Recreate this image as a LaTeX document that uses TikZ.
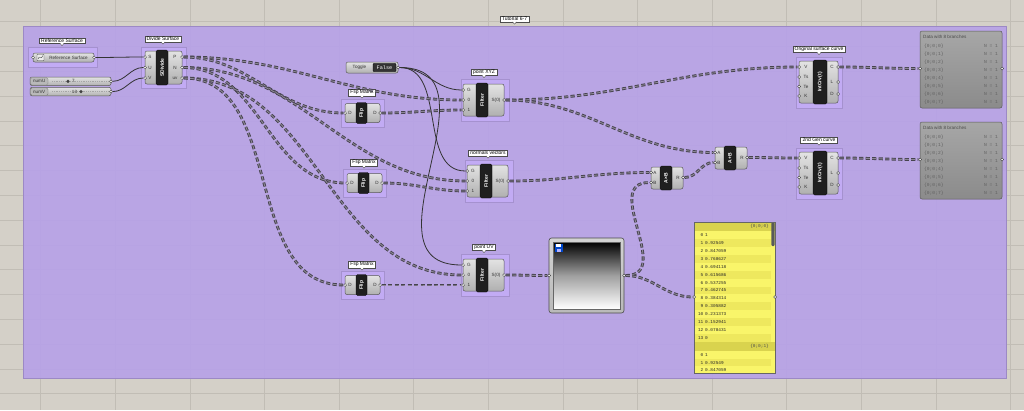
\documentclass[tikz,border=0pt]{standalone}
\usepackage{fontspec}
\setmainfont{Liberation Sans}
\newfontfamily\ghmono{Liberation Mono}
\usetikzlibrary{calc}
\pgfdeclarelayer{ghbg}
\pgfdeclarelayer{ghgrp}
\pgfdeclarelayer{ghwire}
\pgfsetlayers{ghbg,ghgrp,ghwire,main}
\definecolor{bgc}{HTML}{D4D0C8}
\definecolor{gridc}{HTML}{C1BDB5}
\definecolor{grpc}{HTML}{B7A1E8}
\definecolor{cgrpc}{HTML}{C2ABF4}
\definecolor{wirec}{HTML}{46434E}
\definecolor{wirein}{HTML}{8C8696}
\definecolor{yelA}{HTML}{F9F56A}
\definecolor{yelB}{HTML}{EEE85E}
\definecolor{yelH}{HTML}{D9D34E}
\definecolor{dpan}{HTML}{979797}
\tikzset{
  wire/.style={draw=wirec, line width=0.95pt, double=wirein, double distance=0.9pt, dash pattern=on 4.2pt off 2.3pt},
  swire/.style={draw=black!80, line width=0.8pt},
  body/.style={draw=black!65, line width=0.5pt, rounded corners=2pt, top color=gray!22, bottom color=gray!62},
  bar/.style={fill=black!88, draw=black, line width=0.3pt, rounded corners=1.5pt},
  bartxt/.style={text=white, font=\fontsize{5}{5}\selectfont\bfseries, rotate=90, inner sep=0},
  plab/.style={font=\fontsize{4.6}{5}\selectfont, text=black!80, inner sep=0},
  port/.style={circle, draw=black!80, fill=white!92!gray, line width=0.35pt, inner sep=0, minimum size=3pt},
  cgroup/.style={fill=cgrpc, draw=cgrpc!85!black, line width=0.25pt},
  bubble/.style={draw=black!70, fill=white, line width=0.35pt, inner xsep=2pt, inner ysep=0.9pt, font=\fontsize{5}{5.5}\selectfont},
  drow/.style={font=\ghmono\fontsize{4.6}{5}\selectfont, text=black!62, inner sep=0},
  yrow/.style={font=\ghmono\fontsize{4.4}{5}\selectfont, text=black!85, inner sep=0},
}
\newcommand\ghbubble[3]{%
  \node[bubble] (#1) at #2 {#3};
  \fill[white] ([xshift=-2pt,yshift=0.3pt]#1.south) -- ([yshift=-2.2pt]#1.south) -- ([xshift=2pt,yshift=0.3pt]#1.south) -- cycle;
  \draw[black!70, line width=0.35pt] ([xshift=-2pt]#1.south) -- ([yshift=-2.2pt]#1.south) -- ([xshift=2pt]#1.south);
}
\newcommand\ghfilter[4]{%
\begin{scope}[shift={(#2,#3)}]
  \begin{pgfonlayer}{ghgrp}
    \draw[cgroup] (-2,-5) rectangle (46,37);
    \ghbubble{#1lb}{(21,-12)}{#4}
  \end{pgfonlayer}
  \draw[body] (0,0) rectangle (41,32);
  \draw[bar] (13,-1) rectangle (25,33);
  \node[bartxt] at (19,16) {Filter};
  \node[plab] at (6,6) {G};
  \node[plab] at (6,16) {0};
  \node[plab] at (6,26) {1};
  \node[plab] at (33,16) {S(0)};
  \node[port] (#1G) at (0,6) {};
  \node[port] (#1A) at (0,16) {};
  \node[port] (#1B) at (0,26) {};
  \node[port] (#1O) at (41,16) {};
\end{scope}}
\newcommand\ghflip[3]{%
\begin{scope}[shift={(#2,#3)}]
  \begin{pgfonlayer}{ghgrp}
    \draw[cgroup] (-4,-4) rectangle (39,24);
    \ghbubble{#1lb}{(17,-11)}{Flip Matrix}
  \end{pgfonlayer}
  \draw[body] (0,0) rectangle (35,19);
  \draw[bar] (11,-1) rectangle (22,20);
  \node[bartxt] at (16.5,9.5) {Flip};
  \node[plab] at (5,9.5) {D};
  \node[plab] at (30,9.5) {D};
  \node[port] (#1I) at (0,9.5) {};
  \node[port] (#1O) at (35,9.5) {};
\end{scope}}
\newcommand\ghop[4]{%
\begin{scope}[shift={(#2,#3)}]
  \draw[body] (0,0) rectangle (32,22);
  \draw[bar] (9,-1) rectangle (21,23);
  \node[bartxt] at (15,11) {#4};
  \node[plab] at (4,5.5) {A};
  \node[plab] at (4,15.5) {B};
  \node[plab] at (27,10.5) {R};
  \node[port] (#1A) at (0,5.5) {};
  \node[port] (#1B) at (0,15.5) {};
  \node[port] (#1R) at (32,10.5) {};
\end{scope}}
\newcommand\ghintcrv[4]{%
\begin{scope}[shift={(#2,#3)}]
  \begin{pgfonlayer}{ghgrp}
    \draw[cgroup] (-3,-4) rectangle (43,47);
    \ghbubble{#1lb}{(20,-12)}{#4}
  \end{pgfonlayer}
  \draw[body] (0,0) rectangle (39,42);
  \draw[bar] (14,-1) rectangle (28,43);
  \node[bartxt] at (21,21) {IntCrv(t)};
  \node[plab] at (7,6) {V};
  \node[plab] at (7,16) {Ts};
  \node[plab] at (7,25.5) {Te};
  \node[plab] at (7,35) {K};
  \node[plab] at (33,6) {C};
  \node[plab] at (33,21) {L};
  \node[plab] at (33,33) {D};
  \node[port] (#1V) at (0,6) {};
  \node[port] at (0,16) {};
  \node[port] at (0,25.5) {};
  \node[port] at (0,35) {};
  \node[port] (#1C) at (39,6) {};
  \node[port] at (39,21) {};
  \node[port] at (39,33) {};
\end{scope}}
\newcommand\ghdata[3]{%
\begin{scope}[shift={(#2,#3)}]
  \draw[draw=black!65, line width=0.5pt, rounded corners=2pt, top color=dpan!85!white, bottom color=dpan!92!black] (0,0) rectangle (82,77);
  \node[anchor=west, plab, text=black!70] at (3,6) {Data with 8 branches};
  \foreach \k in {0,...,7} {
    \node[anchor=west, drow] at (4,{15+8*\k}) {\{0;0;\k\}};
    \node[anchor=east, drow] at (78,{15+8*\k}) {N = 1};
  }
  \node[port] (#1I) at (0,37.5) {};
  \node[port] (#1O) at (82,37.5) {};
\end{scope}}
\begin{document}
\begin{tikzpicture}[x=1pt,y=-1pt]
\useasboundingbox (0,0) rectangle (1024,410);
\begin{pgfonlayer}{ghbg}
  \fill[bgc] (0,0) rectangle (1024,410);
  \foreach \k in {0,...,13} \draw[gridc, line width=0.6pt] ({40.6+74.6*\k},0) -- ({40.6+74.6*\k},410);
  \foreach \k in {0,...,16} \draw[gridc, line width=0.6pt] (0,{21.7+24.8*\k}) -- (1024,{21.7+24.8*\k});
  \fill[grpc, fill opacity=0.9] (23,26) rectangle (1006,378);
  \draw[grpc!85!black, line width=0.3pt] (23,26) rectangle (1006,378);
\end{pgfonlayer}
\begin{pgfonlayer}{ghgrp}
  \ghbubble{tut}{(514.5,19)}{Tutorial 6-7}
\end{pgfonlayer}

% Reference Surface parameter
\begin{pgfonlayer}{ghgrp}
  \draw[cgroup] (28,47) rectangle (97,67);
  \ghbubble{rslb}{(62,40.5)}{Reference Surface}
\end{pgfonlayer}
\draw[body] (33,53) rectangle (94,62);
\draw[black!70, line width=0.3pt, fill=white!85!gray, rounded corners=0.6pt] (37,54.3) rectangle (44,60.7);
\draw[black!75, line width=0.35pt] (38,59) .. controls (39.5,54) and (41,61) .. (43,55.5);
\node[plab] at (68.5,57.5) {Reference Surface};
\node[port] (rsO) at (94,57.5) {};
\node[port] (rsI) at (33,57.5) {};

% sliders
\draw[body] (30,77) rectangle (111,85.5);
\draw[fill=gray!55, draw=black!55, line width=0.3pt, rounded corners=1.5pt] (30.5,77.5) rectangle (48,85);
\node[plab] at (39.2,81.3) {numU};
\draw[gray!70, line width=0.4pt, dash pattern=on 0.6pt off 1.2pt] (52,81.3) -- (108,81.3);
\fill[black!75] (68,79.6) -- (69.7,81.3) -- (68,83) -- (66.3,81.3) -- cycle;
\node[plab] at (73.5,81.3) {7};
\node[port] (nU) at (111,81.3) {};
\draw[body] (30,87.3) rectangle (111,95.8);
\draw[fill=gray!55, draw=black!55, line width=0.3pt, rounded corners=1.5pt] (30.5,87.8) rectangle (48,95.3);
\node[plab] at (39.2,91.6) {numV};
\draw[gray!70, line width=0.4pt, dash pattern=on 0.6pt off 1.2pt] (52,91.6) -- (108,91.6);
\node[plab] at (74.5,91.6) {13};
\fill[black!75] (81,89.9) -- (82.7,91.6) -- (81,93.3) -- (79.3,91.6) -- cycle;
\node[port] (nV) at (111,91.6) {};

% Divide Surface
\begin{scope}[shift={(145,51)}]
  \begin{pgfonlayer}{ghgrp}
    \draw[cgroup] (-4,-4) rectangle (41,37);
    \ghbubble{dslb}{(18,-12)}{Divide Surface}
  \end{pgfonlayer}
  \draw[body] (0,0) rectangle (37,33);
  \draw[bar] (11,-1) rectangle (23,34);
  \node[bartxt] at (17,16.5) {SDivide};
  \node[plab] at (5,6) {S};
  \node[plab] at (5,16.5) {U};
  \node[plab] at (5,27) {V};
  \node[plab] at (30,6) {P};
  \node[plab] at (30,16.5) {N};
  \node[plab] at (30,27) {uv};
  \node[port] (dsS) at (0,6) {};
  \node[port] (dsU) at (0,16.5) {};
  \node[port] (dsV) at (0,27) {};
  \node[port] (dsP) at (37,6) {};
  \node[port] (dsN) at (37,16.5) {};
  \node[port] (dsW) at (37,27) {};
\end{scope}

% Toggle
\draw[body] (346,62) rectangle (398,73);
\node[plab] at (359.5,67.5) {Toggle};
\draw[fill=black!80, draw=black, line width=0.3pt, rounded corners=1pt] (373,63.3) rectangle (396,71.7);
\node[font=\ghmono\fontsize{5.2}{5.5}\selectfont, text=white, inner sep=0] at (384.5,67.5) {False};
\node[port] (tg) at (398,67.5) {};

% Flip matrices
\ghflip{fa}{345}{103.5}
\ghflip{fb}{347}{173.5}
\ghflip{fc}{345}{275.5}

% Filters
\ghfilter{px}{463}{84}{point XYZ}
\ghfilter{nv}{467}{165}{normals vectors}
\ghfilter{pu}{463}{259}{point UV}

% Gradient preview
\draw[draw=black!70, line width=0.6pt, rounded corners=2.5pt, top color=gray!35, bottom color=gray!55] (549,238) rectangle (624,313);
\shade[top color=black, bottom color=white, middle color=gray!75] (553,242) rectangle (620,309);
\draw[black!60, line width=0.4pt] (553,242) rectangle (620,309);
\fill[blue!65!cyan!80!black] (554.5,243.5) rectangle (562.5,251.5);
\fill[white] (556,244.3) rectangle (561,247.3);
\fill[blue!30!white] (556.5,248.5) rectangle (560.5,251.5);
\node[port] (grI) at (549,275.5) {};
\node[port] (grO) at (624,275.5) {};

% Math
\ghop{ma}{651}{167}{A×B}
\ghop{mb}{715}{147}{A+B}

% Curves
\ghintcrv{ca}{799}{61}{Original surface curve}
\ghintcrv{cb}{799}{152}{2nd Gen curve}

% Data panels
\ghdata{da}{920}{31}
\ghdata{db}{920}{122}

% Yellow panel
\begin{scope}[shift={(694,222)}]
  \fill[yelA] (0,0) rectangle (81,151);
  \fill[yelH] (0,0) rectangle (81,9);
  \node[anchor=east, yrow, text=black!70] at (75,4.6) {\{0;0;0\}};
  \foreach \v [count=\i from 0] in {1,0.92549,0.847059,0.768627,0.694118,0.615686,0.537255,0.462745,0.384314,0.305882,0.231373,0.152941,0.078431,0} {
    \ifodd\i\relax \fill[yelB] (0,{9+7.93*\i}) rectangle (77,{9+7.93*(\i+1)}); \fi
    \node[anchor=east, yrow] at (9.5,{13+7.93*\i}) {\i};
    \node[anchor=west, yrow] at (11,{13+7.93*\i}) {\v};
  }
  \fill[yelH] (0,120) rectangle (81,129);
  \node[anchor=east, yrow, text=black!70] at (75,124.6) {\{0;0;1\}};
  \foreach \v [count=\i from 0] in {1,0.92549,0.847059} {
    \ifodd\i\relax \fill[yelB] (0,{129+7.6*\i}) rectangle (77,{129+7.6*(\i+1)}); \fi
    \node[anchor=east, yrow] at (9.5,{133+7.6*\i}) {\i};
    \node[anchor=west, yrow] at (11,{133+7.6*\i}) {\v};
  }
  \fill[gray!70!black, rounded corners=1pt] (77.3,0.5) rectangle (80.5,24);
  \draw[black!60, line width=0.5pt] (0,0) rectangle (81,151);
  \node[port] (ypI) at (0,75) {};
  \node[port] (ypO) at (81,75) {};
\end{scope}

% Wires
\begin{pgfonlayer}{ghwire}
  \draw[swire] (rsO) to[out=0,in=180] (dsS);
  \draw[swire] (nU) to[out=0,in=180] (dsU);
  \draw[swire] (nV) to[out=0,in=180] (dsV);
  \draw[swire] (tg) to[out=0,in=180] (pxG);
  \draw[swire] (tg) to[out=0,in=180] (nvG);
  \draw[swire] (tg) to[out=0,in=180,looseness=1.3] (puG);
  \draw[wire] (dsP) to[out=0,in=180] (pxA);
  \draw[wire] (dsP) to[out=0,in=180] (faI);
  \draw[wire] (dsN) to[out=0,in=180] (nvA);
  \draw[wire] (dsN) to[out=0,in=180] (fbI);
  \draw[wire] (dsW) to[out=0,in=180] (puA);
  \draw[wire] (dsW) to[out=0,in=180] (fcI);
  \draw[wire] (faO) to[out=0,in=180] (pxB);
  \draw[wire] (fbO) to[out=0,in=180] (nvB);
  \draw[wire] (fcO) to[out=0,in=180] (puB);
  \draw[wire] (pxO) to[out=0,in=180] (caV);
  \draw[wire] (pxO) to[out=0,in=180] (mbA);
  \draw[wire] (nvO) to[out=0,in=180] (maA);
  \draw[wire] (puO) to[out=0,in=180] (grI);
  \draw[wire] (grO) to[out=0,in=180,looseness=1.3] (maB);
  \draw[wire] (grO) to[out=0,in=180] (ypI);
  \draw[wire] (maR) to[out=0,in=180] (mbB);
  \draw[wire] (mbR) to[out=0,in=180] (cbV);
  \draw[wire] (caC) to[out=0,in=180] (daI);
  \draw[wire] (cbC) to[out=0,in=180] (dbI);
\end{pgfonlayer}
\end{tikzpicture}
\end{document}
